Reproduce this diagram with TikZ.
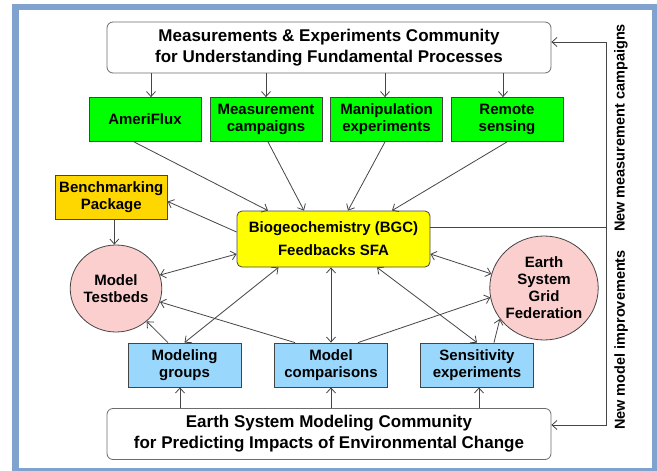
\documentclass[tikz,border=0pt]{standalone}
\usepackage{fontspec}
\setmainfont{Liberation Sans}
\usetikzlibrary{arrows.meta,shapes.geometric}
\definecolor{framebl}{HTML}{7FA3CE}
\definecolor{gr}{HTML}{00FF00}
\definecolor{ye}{HTML}{FFFF00}
\definecolor{go}{HTML}{FFD700}
\definecolor{pk}{HTML}{FCCFCF}
\definecolor{lb}{HTML}{99D8FC}
\definecolor{ln}{HTML}{454545}
\tikzset{
  x=1pt,y=-1pt,
  base/.style={draw=ln,line width=0.8pt,align=center,inner sep=0pt,text=black},
  bigbox/.style={base,draw=gray!85!black,fill=white,rounded corners=6pt,minimum width=444pt,minimum height=51pt,font=\bfseries\fontsize{17}{21}\selectfont},
  grbox/.style={base,fill=gr,minimum width=112pt,minimum height=44pt,font=\bfseries\fontsize{15}{17}\selectfont},
  blbox/.style={base,fill=lb,minimum width=113pt,minimum height=44pt,font=\bfseries\fontsize{15}{16.5}\selectfont},
  circ/.style={base,ellipse,fill=pk,font=\bfseries\fontsize{15}{17}\selectfont},
  arr/.style={draw=ln,line width=0.8pt,-{Straight Barb[length=5pt,width=9pt,line width=0.8pt]}},
  darr/.style={draw=ln,line width=0.8pt,{Straight Barb[length=5pt,width=9pt,line width=0.8pt]}-{Straight Barb[length=5pt,width=9pt,line width=0.8pt]}},
  ln/.style={draw=ln,line width=0.8pt},
  side/.style={font=\bfseries\fontsize{14.5}{16}\selectfont,rotate=90,inner sep=0pt}
}
\begin{document}
\begin{tikzpicture}
\useasboundingbox (0,0) rectangle (657,471);
\fill[white] (0,0) rectangle (657,471);
\draw[framebl,line width=6.5pt] (15.5,7) rectangle (655.5,471);

\node[bigbox] (top) at (329,47.5) {Measurements \& Experiments Community\\for Understanding Fundamental Processes};
\node[grbox] (af) at (145,119.5) {AmeriFlux};
\node[grbox] (mc) at (266,119.5) {Measurement\\campaigns};
\node[grbox] (me) at (386.5,119.5) {Manipulation\\experiments};
\node[grbox] (rs) at (507,119.5) {Remote\\sensing};
\node[base,fill=ye,rounded corners=5pt,minimum width=193pt,minimum height=56pt,font=\bfseries\fontsize{15}{23}\selectfont] (bgc) at (333.5,239) {Biogeochemistry (BGC)\\Feedbacks SFA};
\node[grbox,fill=go] (bench) at (111.3,197.5) {Benchmarking\\Package};
\node[circ,minimum width=86pt,minimum height=87pt] (tb) at (116,288.5) {Model\\Testbeds};
\node[circ,minimum width=96pt,minimum height=104pt] (esgf) at (544,288) {Earth\\System\\Grid\\Federation};
\node[blbox] (mg) at (184.5,365) {Modeling\\groups};
\node[blbox] (mcomp) at (331,365) {Model\\comparisons};
\node[blbox] (se) at (477,365) {Sensitivity\\experiments};
\node[bigbox] (bot) at (329,434) {Earth System Modeling Community\\for Predicting Impacts of Environmental Change};

\node[side] (nmc) at (621,128) {New measurement campaigns};
\node[side] (nmi) at (621,340) {New model improvements};

% top box to green boxes
\draw[arr] ([xshift=6pt]af.north |- top.south) -- ([xshift=6pt]af.north);
\draw[arr] (mc.north |- top.south) -- (mc.north);
\draw[arr] ([xshift=-1.5pt]me.north |- top.south) -- ([xshift=-1.5pt]me.north);
\draw[arr] ([xshift=-4pt]rs.north |- top.south) -- ([xshift=-4pt]rs.north);

% green boxes to BGC
\draw[arr] ([xshift=-11pt]af.south) -- ([xshift=-65.5pt]bgc.north);
\draw[arr] ([xshift=2pt]mc.south) -- ([xshift=-29.5pt]bgc.north);
\draw[arr] ([xshift=-1.5pt]me.south) -- ([xshift=14.5pt]bgc.north);
\draw[arr] (rs.south) -- ([xshift=58.5pt]bgc.north);

% BGC left side
\draw[arr] ([yshift=7pt]bgc.west) -- ([yshift=-4pt]bench.east);
\draw[arr] ([xshift=3pt]bench.south) -- ([xshift=3pt]bench.south |- tb.north);
\draw[darr] ([yshift=-15pt]bgc.west) -- (tb.17);
\draw[darr] ([yshift=-15pt]bgc.east) -- (esgf.165);

% blue boxes
\draw[arr] ([xshift=-16.5pt]mg.north) -- (tb.-47);
\draw[darr] (mg.north) -- ([xshift=-55pt]bgc.south);
\draw[darr] (mcomp.north) -- (mcomp.north |- bgc.south);
\draw[arr] ([xshift=-36pt]mcomp.north) -- (tb.-17);
\draw[arr] ([xshift=27pt]mcomp.north) -- (esgf.190);
\draw[darr] (se.north) -- ([xshift=43.5pt]bgc.south);
\draw[arr] ([xshift=17pt]se.north) -- (esgf.215);

% bottom box to blue boxes
\draw[arr] ([xshift=-4.5pt]mg.south |- bot.north) -- ([xshift=-4.5pt]mg.south);
\draw[arr] (mcomp.south |- bot.north) -- (mcomp.south);
\draw[arr] ([xshift=2pt]se.south |- bot.north) -- ([xshift=2pt]se.south);

% feedback loop
\coordinate (j) at (606,227);
\draw[ln] ([yshift=12pt]bgc.east) -- (j);
\draw[arr] (j) |- ([yshift=5.5pt]top.east);
\draw[arr] (j) |- ([yshift=9pt]bot.east);
\end{tikzpicture}
\end{document}
